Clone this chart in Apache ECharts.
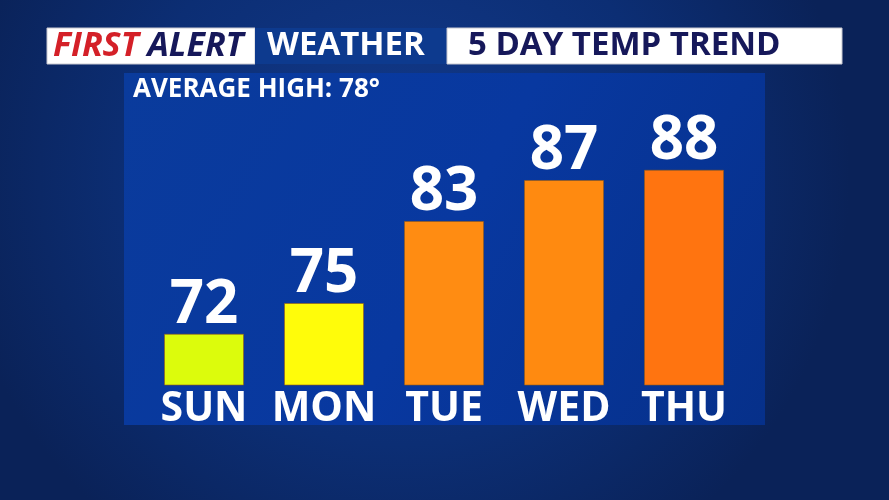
<!DOCTYPE html>
<html><head><meta charset="utf-8">
<script src="https://cdn.jsdelivr.net/npm/echarts@6/dist/echarts.min.js"></script>
<style>html,body{margin:0;padding:0;background:#0b2a6e;}#c{width:889px;height:500px;}</style>
</head><body><div id="c"></div>
<script>
const days = ['SUN', 'MON', 'TUE', 'WED', 'THU'];
const temps = [72, 75, 83, 87, 88];
const averageHigh = 78;
const barColors = ['#dcfc0c', '#fffc0a', '#ff8c12', '#ff8a10', '#ff7410'];

const FONT = '"Open Sans", "Noto Sans", sans-serif';
const chart = echarts.init(document.getElementById('c'));
chart.setOption({
  backgroundColor: {
    type: 'radial', x: 0.45, y: 0.35, r: 0.9,
    colorStops: [{offset: 0, color: '#123a8c'}, {offset: 0.6, color: '#0c2e74'}, {offset: 1, color: '#0a2258'}]
  },
  graphic: [
    {type: 'rect', shape: {x: 124, y: 73, width: 641, height: 352}, z: -10,
     style: {fill: {type: 'linear', x: 0, y: 0, x2: 1, y2: 1, colorStops: [{offset: 0, color: '#0a3b9c'}, {offset: 0.5, color: '#0838a0'}, {offset: 1, color: '#06308a'}]}}},
    {type: 'rect', shape: {x: 47, y: 28, width: 208, height: 36}, style: {fill: '#ffffff', stroke: '#c8c8d0', lineWidth: 1}},
    {type: 'rect', shape: {x: 255, y: 28, width: 192, height: 36}, style: {fill: '#0d3a8e'}},
    {type: 'rect', shape: {x: 447, y: 28, width: 395, height: 36}, style: {fill: '#ffffff', stroke: '#c8c8d0', lineWidth: 1}},
    {type: 'text', x: 53, y: 46, style: {
      text: '{r|FIRST}{n| ALERT}', verticalAlign: 'middle',
      rich: {
        r: {fill: '#d42028', fontSize: 34, fontWeight: 'bold', fontStyle: 'italic', fontFamily: FONT},
        n: {fill: '#16185a', fontSize: 34, fontWeight: 'bold', fontStyle: 'italic', fontFamily: FONT}
      }}},
    {type: 'text', x: 267, y: 46, style: {text: 'WEATHER', fill: '#ffffff', fontSize: 33, fontWeight: 'bold', fontFamily: FONT, verticalAlign: 'middle'}},
    {type: 'text', x: 468, y: 46, style: {text: '5 DAY TEMP TREND', fill: '#16185a', fontSize: 33, fontWeight: 'bold', fontFamily: FONT, verticalAlign: 'middle'}},
    {type: 'text', x: 133, y: 90, style: {text: 'AVERAGE HIGH: ' + averageHigh + '°', fill: '#ffffff', fontSize: 26, fontWeight: 'bold', fontFamily: FONT, verticalAlign: 'middle'}}
  ],
  grid: {left: 144, width: 600, top: 98, bottom: 115},
  xAxis: {
    type: 'category', data: days,
    axisLine: {show: false}, axisTick: {show: false},
    axisLabel: {color: '#ffffff', fontSize: 41, fontWeight: 'bold', fontFamily: FONT, margin: 4, interval: 0}
  },
  yAxis: {type: 'value', min: 67, max: 95, show: false, splitLine: {show: false}},
  series: [{
    type: 'bar', barWidth: 80,
    data: temps.map((v, i) => ({value: v, itemStyle: {color: barColors[i]}})),
    itemStyle: {borderColor: 'rgba(150,90,20,0.6)', borderWidth: 1},
    label: {show: true, position: 'top', distance: -2, color: '#ffffff', fontSize: 60, fontWeight: 'bold', fontFamily: FONT},
    silent: true
  }]
});
</script></body></html>
